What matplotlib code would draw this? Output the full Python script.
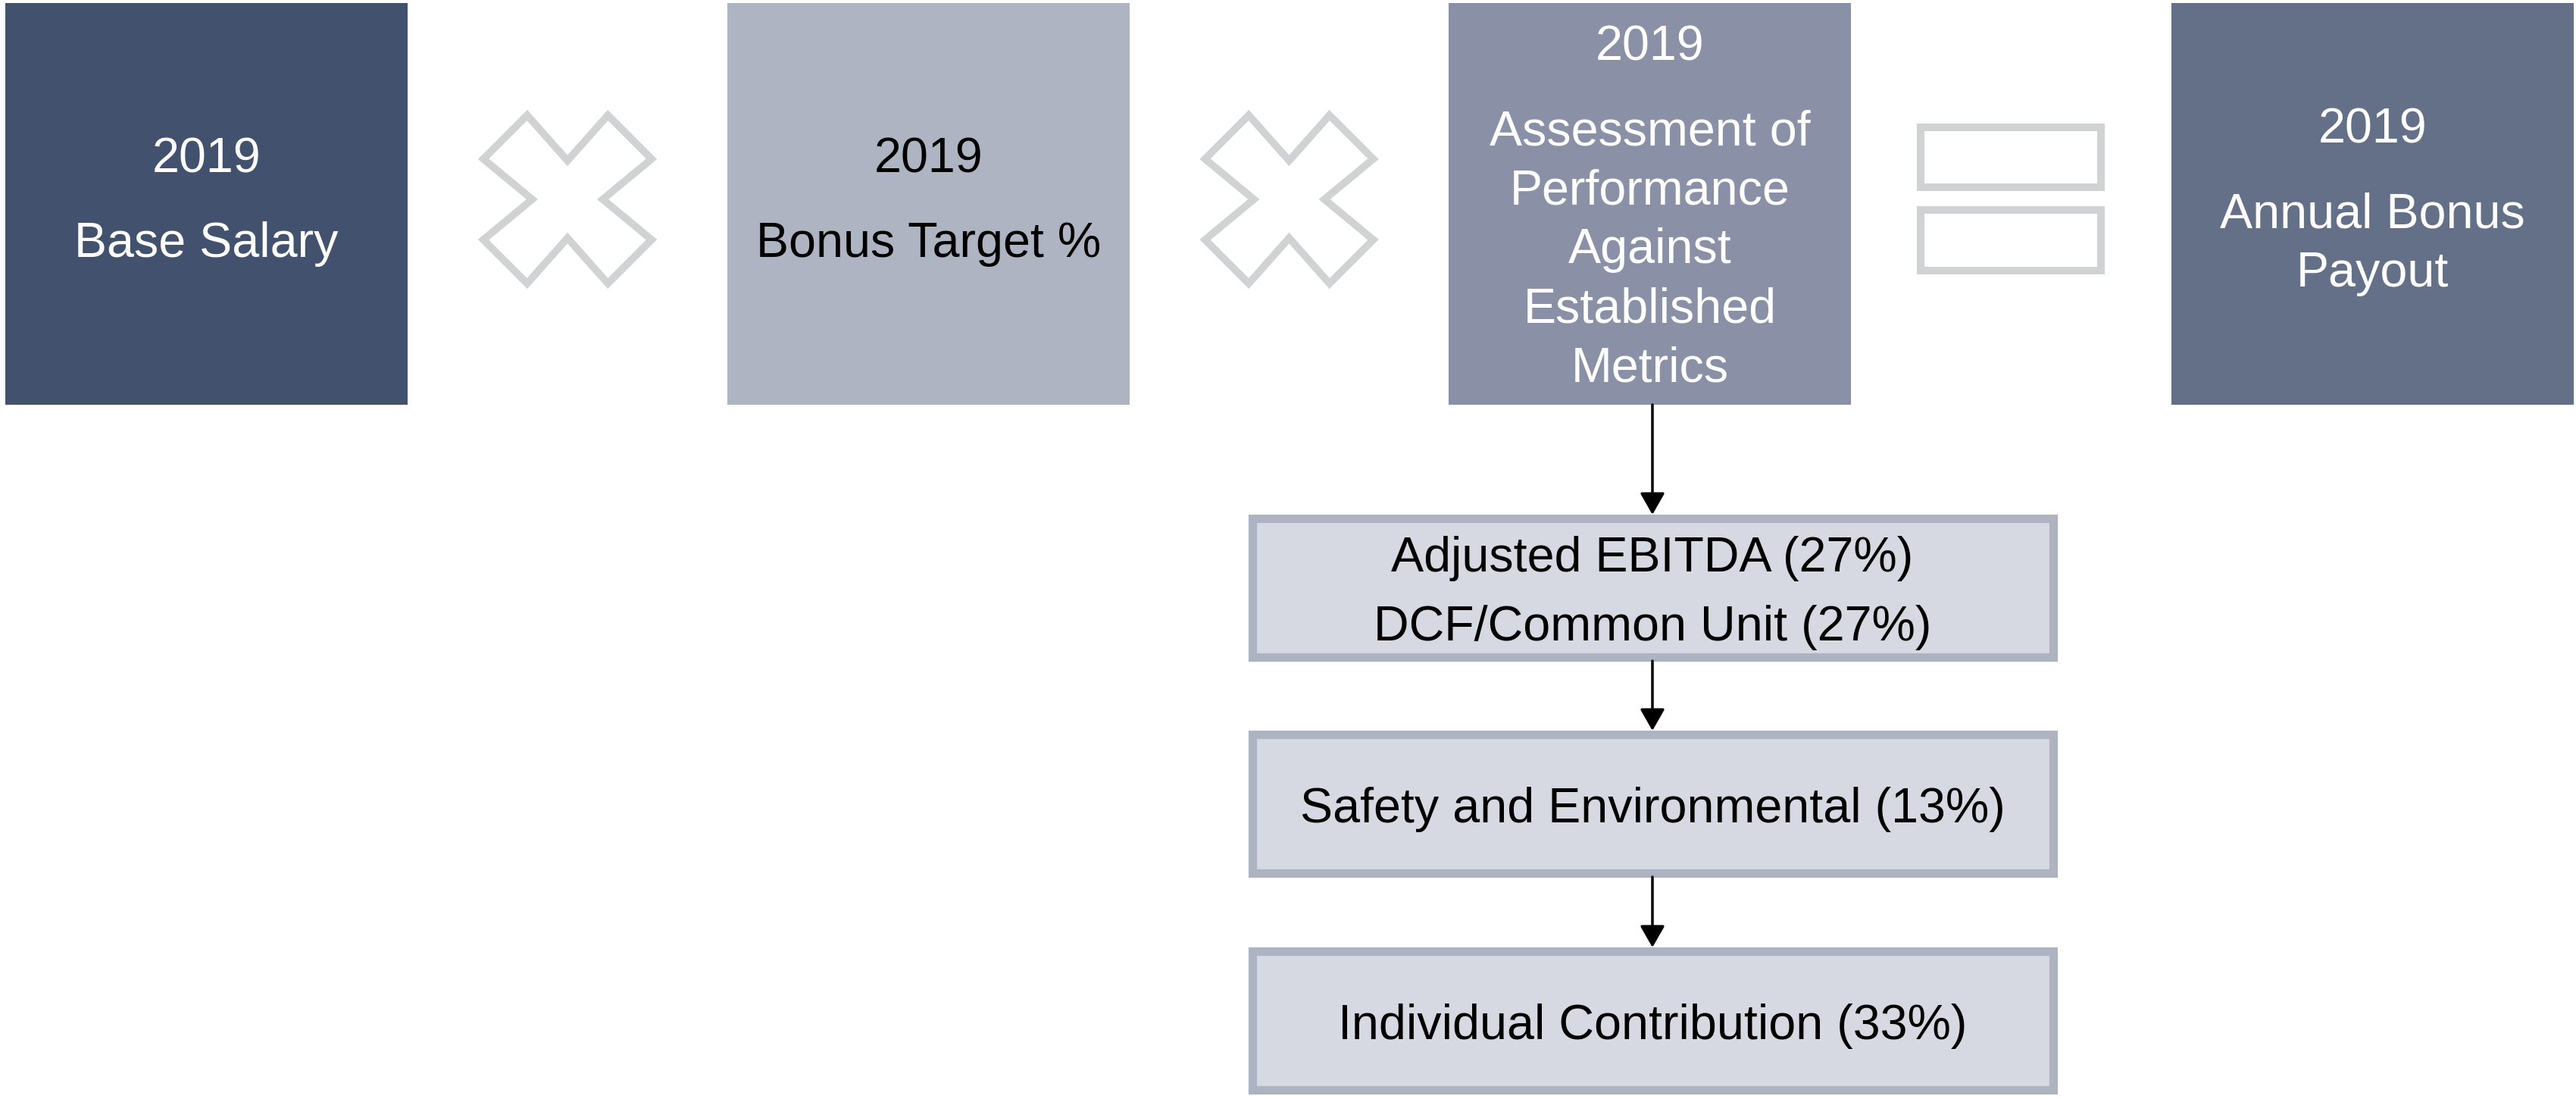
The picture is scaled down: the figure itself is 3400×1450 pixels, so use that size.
import matplotlib
matplotlib.use('Agg')
import matplotlib.pyplot as plt
from matplotlib.patches import Rectangle, Polygon

plt.rcParams['font.family'] = ['Liberation Sans', 'DejaVu Sans']

# top row: year + label lines for each box
year = '2019'
top_labels = [['Base Salary'],
              ['Bonus Target %'],
              ['Assessment of', 'Performance', 'Against', 'Established', 'Metrics'],
              ['Annual Bonus', 'Payout']]
top_colors = ['#42526E', '#AEB4C2', '#8A91A6', '#646F88']
top_text_colors = ['white', 'black', 'white', 'white']
operators = ['x', 'x', '=']

# metric boxes below the assessment box
metric_labels = [['Adjusted EBITDA (27%)', 'DCF/Common Unit (27%)'],
                 ['Safety and Environmental (13%)'],
                 ['Individual Contribution (33%)']]

W, H = 3400, 1450
fig = plt.figure(figsize=(W / 100, H / 100), dpi=100)
ax = fig.add_axes([0, 0, 1, 1])
ax.set_xlim(0, W)
ax.set_ylim(H, 0)
ax.axis('off')

fs = 46.5
box_x = [7, 960, 1912, 2866]
box_w = 531
box_top, box_bot = 4, 534
year_y = [210, 210, 62, 171]

for i, lines in enumerate(top_labels):
    x0 = box_x[i]
    ax.add_patch(Rectangle((x0, box_top), box_w, box_bot - box_top,
                           facecolor=top_colors[i], edgecolor='none'))
    y = year_y[i]
    cx = x0 + box_w / 2
    ax.text(cx, y, year, ha='center', va='center', fontsize=fs,
            color=top_text_colors[i])
    y += 112
    for ln in lines:
        ax.text(cx, y, ln, ha='center', va='center', fontsize=fs,
                color=top_text_colors[i])
        y += 78

# operator symbols between boxes
gray = '#D1D2D4'
cross = [(0.26, 0), (0.5, 0.27), (0.74, 0), (1, 0.26), (0.71, 0.5), (1, 0.74),
         (0.74, 1), (0.5, 0.73), (0.26, 1), (0, 0.74), (0.29, 0.5), (0, 0.26)]
for i, op in enumerate(operators):
    gx0 = box_x[i] + box_w
    gcx = (gx0 + box_x[i + 1]) / 2
    if op == 'x':
        size = 222
        pts = [(gcx - size / 2 + px * size, 263 - size / 2 + py * size) for px, py in cross]
        ax.add_patch(Polygon(pts, closed=True, facecolor='white',
                             edgecolor=gray, linewidth=7))
    else:
        ax.add_patch(Rectangle((gcx - 119, 168), 238, 79, facecolor='white',
                               edgecolor=gray, linewidth=7.2))
        ax.add_patch(Rectangle((gcx - 119, 277), 238, 80, facecolor='white',
                               edgecolor=gray, linewidth=7.2))

# metric boxes + arrows
mx0, mx1 = 1653, 2710
mcx = 2181
m_tops = [684, 969, 1255]
m_h = 183
prev_bottom = box_bot
for j, lines in enumerate(metric_labels):
    top = m_tops[j]
    ax.annotate('', xy=(mcx, top - 5), xytext=(mcx, prev_bottom),
                arrowprops=dict(arrowstyle='-|>,head_length=0.35,head_width=0.2',
                                mutation_scale=50, color='black', lw=2.5,
                                shrinkA=0, shrinkB=0))
    ax.add_patch(Rectangle((mx0, top), mx1 - mx0, m_h, facecolor='#D6D9E2',
                           edgecolor='#AEB3C1', linewidth=8))
    cy = top + m_h / 2 + 7
    n = len(lines)
    for k, ln in enumerate(lines):
        ax.text(mcx, cy + (k - (n - 1) / 2) * 91, ln, ha='center', va='center',
                fontsize=fs, color='black')
    prev_bottom = top + m_h + 5

fig.savefig('out.png', dpi=100)
